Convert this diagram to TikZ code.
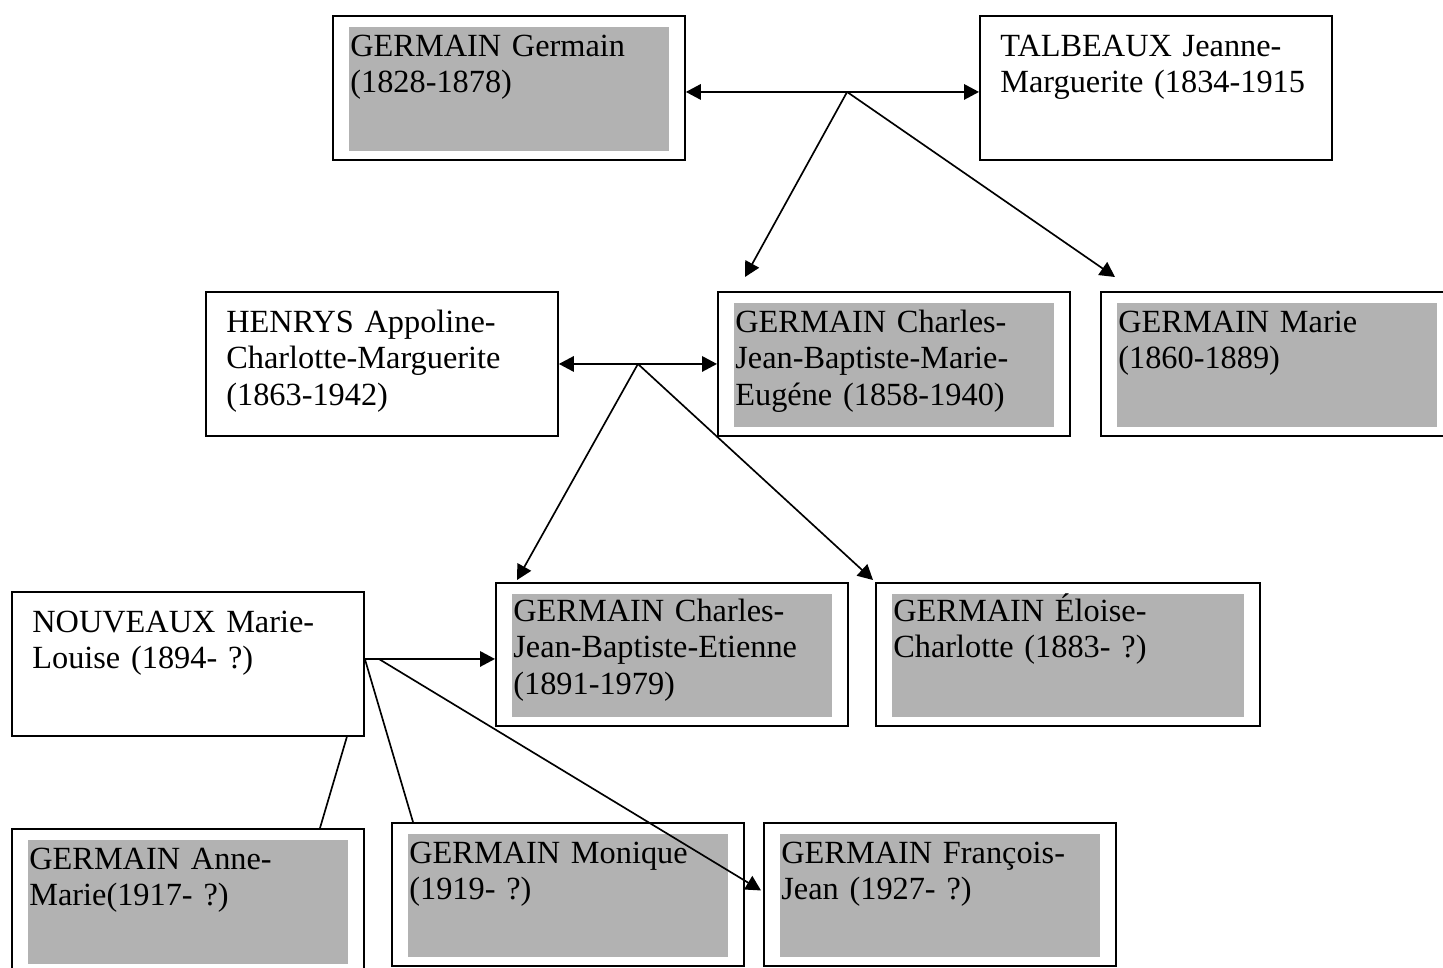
\documentclass[tikz,border=0pt]{standalone}
\usepackage{fontspec}
\setmainfont{Liberation Serif}
\usetikzlibrary{arrows.meta}
\definecolor{boxgray}{gray}{0.70}
\tikzset{
    person/.style={draw,line width=1.1pt,fill=white,anchor=north west,inner sep=0pt,
        minimum width=7.04cm,minimum height=2.88cm},
    child/.style={person,path picture={
        \fill[boxgray]([shift={(16,11)}]path picture bounding box.north west)
        rectangle([shift={(-16,-9)}]path picture bounding box.south east);}},
    persontext/.style={anchor=base west,inner sep=0pt,text width=6.6cm,align=left,
        font=\fontsize{18.4}{20.8}\selectfont},
    link/.style={line width=0.95pt}
}
\begin{document}
\begin{tikzpicture}[x=0.02cm,y=-0.02cm,>={Triangle[length=0.3cm,width=0.31cm]}]
    \useasboundingbox(0,0)rectangle(1443,967);
    % first generation
    \node[child](gg)at(332,15){};
    \node[persontext](ggt)at([shift={(18,41)}]gg.north west){GERMAIN Germain\\(1828-1878)};
    \node[person](tj)at(979,15){};
    \node[persontext](tjt)at([shift={(21,41)}]tj.north west){TALBEAUX Jeanne-\\Marguerite (1834-1915};
    % second generation
    \node[person](hac)at(205,291){};
    \node[persontext](hact)at([shift={(21,41)}]hac.north west){HENRYS Appoline-\\Charlotte-Marguerite\\(1863-1942)};
    \node[child](cme)at(717,291){};
    \node[persontext](cmet)at([shift={(18,41)}]cme.north west){GERMAIN Charles-\\Jean-Baptiste-Marie-\\Eugéne (1858-1940)};
    \node[child](gm)at(1100,291){};
    \node[persontext](gmt)at([shift={(18,41)}]gm.north west){GERMAIN Marie\\(1860-1889)};
    % third generation
    \node[person](nml)at(11,591){};
    \node[persontext](nmlt)at([shift={(21,41)}]nml.north west){NOUVEAUX Marie-\\Louise (1894- ?)};
    \node[child,minimum height=2.86cm](cje)at(495,582){};
    \node[persontext](cjet)at([shift={(18,39)}]cje.north west){GERMAIN Charles-\\Jean-Baptiste-Etienne\\(1891-1979)};
    \node[child,minimum width=7.68cm,minimum height=2.86cm](ec)at(875,582){};
    \node[persontext](ect)at([shift={(18,39)}]ec.north west){GERMAIN Éloise-\\Charlotte (1883- ?)};
    % fourth generation
    \node[child](gam)at(11,828){};
    \node[persontext](gamt)at([shift={(18,41)}]gam.north west){GERMAIN Anne-\\Marie(1917- ?)};
    \node[child,minimum height=2.86cm](gmo)at(391,822){};
    \node[persontext](gmot)at([shift={(18,41)}]gmo.north west){GERMAIN Monique\\(1919- ?)};
    \node[child,minimum height=2.86cm](gfj)at(763,822){};
    \node[persontext](gfjt)at([shift={(18,41)}]gfj.north west){GERMAIN François-\\Jean (1927- ?)};
    % links
    \draw[link,<->]([yshift=-0.08cm]gg.east)--coordinate[pos=0.55](c1)([yshift=-0.08cm]tj.west);
    \draw[link,->](c1)--([shift={(28,-14)}]cme.north west);
    \draw[link,->](c1)--([shift={(15,-14)}]gm.north west);
    \draw[link,<->](hac.east)--coordinate[pos=0.5](c2)(cme.west);
    \draw[link,->](c2)--([shift={(22,-2)}]cje.north west);
    \draw[link,->](c2)--([shift={(-2,-2)}]ec.north west);
    \coordinate(c3)at([yshift=0.1cm]nml.east);
    \draw[link,->](c3)--(c3-|cje.west);
    \draw[link]([shift={(-18,0)}]nml.south east)--([shift={(309,0)}]gam.north west);
    \draw[link](c3)--([shift={(22,0)}]gmo.north west);
    \draw[link,->]([shift={(14,0)}]c3)--([shift={(-2,-4)}]gfj.west);
\end{tikzpicture}
\end{document}
